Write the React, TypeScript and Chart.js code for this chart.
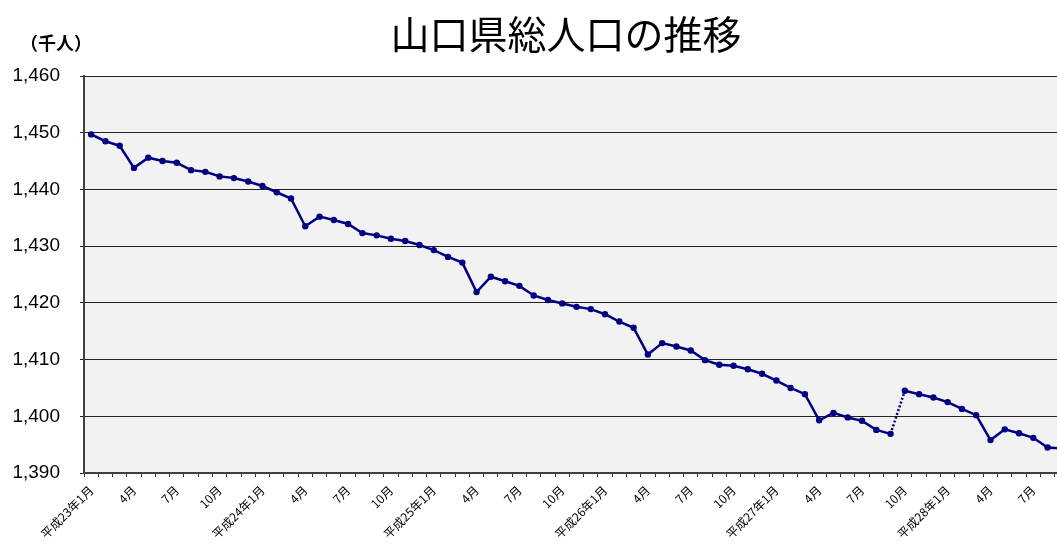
import React, { useEffect, useRef } from 'react';
import { Chart, registerables } from 'chart.js';

Chart.register(...registerables);

const TITLE = '山口県総人口の推移';
const UNIT_LABEL = '（千人）';

const CATEGORIES = [
  '平成23年1月', '2月', '3月', '4月', '5月', '6月', '7月', '8月', '9月', '10月', '11月', '12月',
  '平成24年1月', '2月', '3月', '4月', '5月', '6月', '7月', '8月', '9月', '10月', '11月', '12月',
  '平成25年1月', '2月', '3月', '4月', '5月', '6月', '7月', '8月', '9月', '10月', '11月', '12月',
  '平成26年1月', '2月', '3月', '4月', '5月', '6月', '7月', '8月', '9月', '10月', '11月', '12月',
  '平成27年1月', '2月', '3月', '4月', '5月', '6月', '7月', '8月', '9月', '10月', '11月', '12月',
  '平成28年1月', '2月', '3月', '4月', '5月', '6月', '7月', '8月', '9月',
];

const POPULATION = [
  1449.7, 1448.5, 1447.7, 1443.8, 1445.6, 1445.0, 1444.7, 1443.4, 1443.1, 1442.3, 1442.0, 1441.4,
  1440.6, 1439.5, 1438.4, 1433.5, 1435.2, 1434.6, 1433.9, 1432.3, 1431.9, 1431.3, 1430.9, 1430.2,
  1429.3, 1428.1, 1427.1, 1421.9, 1424.6, 1423.8, 1423.0, 1421.3, 1420.5, 1419.9, 1419.3, 1418.9,
  1418.0, 1416.7, 1415.6, 1410.9, 1412.9, 1412.3, 1411.6, 1409.9, 1409.1, 1408.9, 1408.3, 1407.5,
  1406.3, 1405.0, 1403.9, 1399.3, 1400.6, 1399.8, 1399.2, 1397.6, 1396.9, 1404.5, 1403.9, 1403.3,
  1402.5, 1401.3, 1400.2, 1395.8, 1397.7, 1397.0, 1396.2, 1394.5, 1394.3,
];

// segment after this index (census revision) is dotted
const CENSUS_BREAK_INDEX = 56;

const Y_MIN = 1390;
const Y_MAX = 1460;
const Y_STEP = 10;
const X_LABEL_EVERY = 3;

const LINE_COLOR = '#000080';
const PLOT_BG = '#f2f2f2';

const CANVAS_W = 1134;
const CANVAS_H = 544;

const decorPlugin = {
  id: 'decor',
  beforeDraw(chart: any) {
    const { ctx, chartArea } = chart;
    ctx.save();
    ctx.fillStyle = PLOT_BG;
    ctx.fillRect(chartArea.left, chartArea.top, chartArea.right - chartArea.left, chartArea.bottom - chartArea.top);
    ctx.restore();
  },
  afterDraw(chart: any) {
    const { ctx } = chart;
    ctx.save();
    ctx.fillStyle = '#000';
    ctx.textAlign = 'center';
    ctx.textBaseline = 'middle';
    ctx.font = '400 39px "Noto Sans CJK JP"';
    ctx.fillText(TITLE, 566, 34);
    ctx.textAlign = 'left';
    ctx.font = 'bold 18px "Noto Sans CJK JP"';
    ctx.fillText(UNIT_LABEL, 20, 43);
    ctx.restore();
  },
};

export default function App() {
  const canvasRef = useRef<HTMLCanvasElement | null>(null);

  useEffect(() => {
    if (!canvasRef.current) return;
    const chart = new Chart(canvasRef.current, {
      type: 'line',
      data: {
        labels: CATEGORIES,
        datasets: [
          {
            data: POPULATION,
            borderColor: LINE_COLOR,
            backgroundColor: LINE_COLOR,
            borderWidth: 2.5,
            pointRadius: 3.2,
            pointBackgroundColor: LINE_COLOR,
            pointBorderColor: LINE_COLOR,
            pointBorderWidth: 0,
            tension: 0,
            segment: {
              borderDash: (ctx: any) => (ctx.p0DataIndex === CENSUS_BREAK_INDEX ? [2, 2] : undefined),
            },
          },
        ],
      },
      options: {
        animation: false,
        responsive: false,
        layout: { padding: { top: 76, right: 65, left: 0, bottom: 0 } },
        plugins: {
          legend: { display: false },
          title: { display: false },
          tooltip: { enabled: false },
        },
        scales: {
          x: {
            type: 'category',
            offset: true,
            grid: {
              offset: true,
              drawOnChartArea: false,
              drawTicks: true,
              tickLength: 4,
              color: '#333',
            },
            border: { display: true, color: '#404040', width: 2 },
            ticks: {
              autoSkip: false,
              minRotation: 45,
              maxRotation: 45,
              padding: 6,
              color: '#000',
              font: { family: '"Noto Sans CJK JP"', size: 12 },
              callback: (_v: any, index: number) => (index % X_LABEL_EVERY === 0 ? CATEGORIES[index] : ''),
            },
            afterFit: (scale: any) => {
              scale.height = 71;
            },
          },
          y: {
            min: Y_MIN,
            max: Y_MAX,
            grid: {
              color: '#222',
              lineWidth: 1,
              drawTicks: true,
              tickLength: 4,
            },
            border: { display: true, color: '#404040', width: 2 },
            ticks: {
              stepSize: Y_STEP,
              padding: 20,
              color: '#000',
              font: { family: '"Liberation Sans", Arial, sans-serif', size: 19 },
              callback: (v: any) => Number(v).toLocaleString('en-US'),
            },
            afterFit: (scale: any) => {
              scale.width = 84;
            },
          },
        },
      },
      plugins: [decorPlugin],
    });
    return () => chart.destroy();
  }, []);

  return (
    <div style={{ position: 'absolute', left: 0, top: 0, width: 1057, height: 544, overflow: 'hidden', background: '#fff' }}>
      <canvas ref={canvasRef} width={CANVAS_W} height={CANVAS_H} style={{ display: 'block', width: CANVAS_W, height: CANVAS_H }} />
    </div>
  );
}
